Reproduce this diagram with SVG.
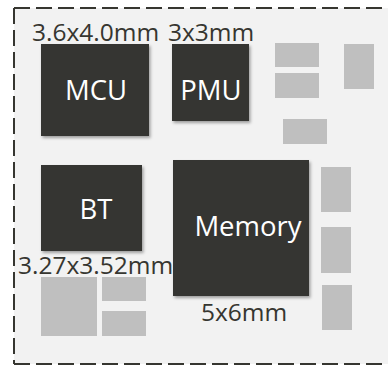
<svg xmlns="http://www.w3.org/2000/svg" width="388" height="366" viewBox="0 0 388 366">
<defs>
<filter id="sh" x="-10%" y="-10%" width="130%" height="130%">
<feDropShadow dx="1.5" dy="2" stdDeviation="1.5" flood-color="#000" flood-opacity="0.35"/>
</filter>
<style>
.chip{fill:#363630;filter:url(#sh)}
.pad{fill:#bfbfbf}
.lbl{font-family:"Open Sans","Noto Sans",sans-serif;font-size:24.5px;fill:#363630}
.in{font-family:"Open Sans","Noto Sans",sans-serif;font-size:27.5px;fill:#ffffff;text-anchor:middle}
.bd{fill:none;stroke:#363630;stroke-width:2;stroke-dasharray:16 6}
</style>
</defs>
<rect x="14" y="8" width="374" height="356" fill="#f2f2f2"/>
<g id="border">
<line class="bd" x1="14" y1="8" x2="388" y2="8"/>
<line class="bd" x1="14" y1="8" x2="14" y2="364"/>
<line class="bd" x1="14" y1="364" x2="388" y2="364"/>
</g>
<g id="pads">
<rect class="pad" x="275" y="43" width="44" height="24"/>
<rect class="pad" x="275" y="73" width="44" height="25"/>
<rect class="pad" x="344" y="44" width="30" height="45"/>
<rect class="pad" x="283" y="119" width="44" height="25"/>
<rect class="pad" x="321" y="167" width="30" height="45"/>
<rect class="pad" x="321" y="227" width="30" height="46"/>
<rect class="pad" x="322" y="285" width="30" height="45"/>
<rect class="pad" x="41" y="277" width="56" height="59"/>
<rect class="pad" x="102" y="277" width="44" height="24"/>
<rect class="pad" x="102" y="311" width="44" height="25"/>
</g>
<g id="mcu">
<rect class="chip" x="41" y="44" width="108" height="92"/>
<text class="in" x="96" y="100">MCU</text>
<text class="lbl" x="32" y="41">3.6x4.0mm</text>
</g>
<g id="pmu">
<rect class="chip" x="172" y="44" width="77" height="77"/>
<text class="in" x="211" y="100">PMU</text>
<text class="lbl" x="168" y="41">3x3mm</text>
</g>
<g id="bt">
<rect class="chip" x="41" y="165" width="101" height="86"/>
<text class="in" x="96" y="219">BT</text>
<text class="lbl" x="18" y="274">3.27x3.52mm</text>
</g>
<g id="memory">
<rect class="chip" x="173" y="160" width="136" height="136"/>
<text class="in" x="248" y="236">Memory</text>
<text class="lbl" x="201" y="321">5x6mm</text>
</g>
</svg>
